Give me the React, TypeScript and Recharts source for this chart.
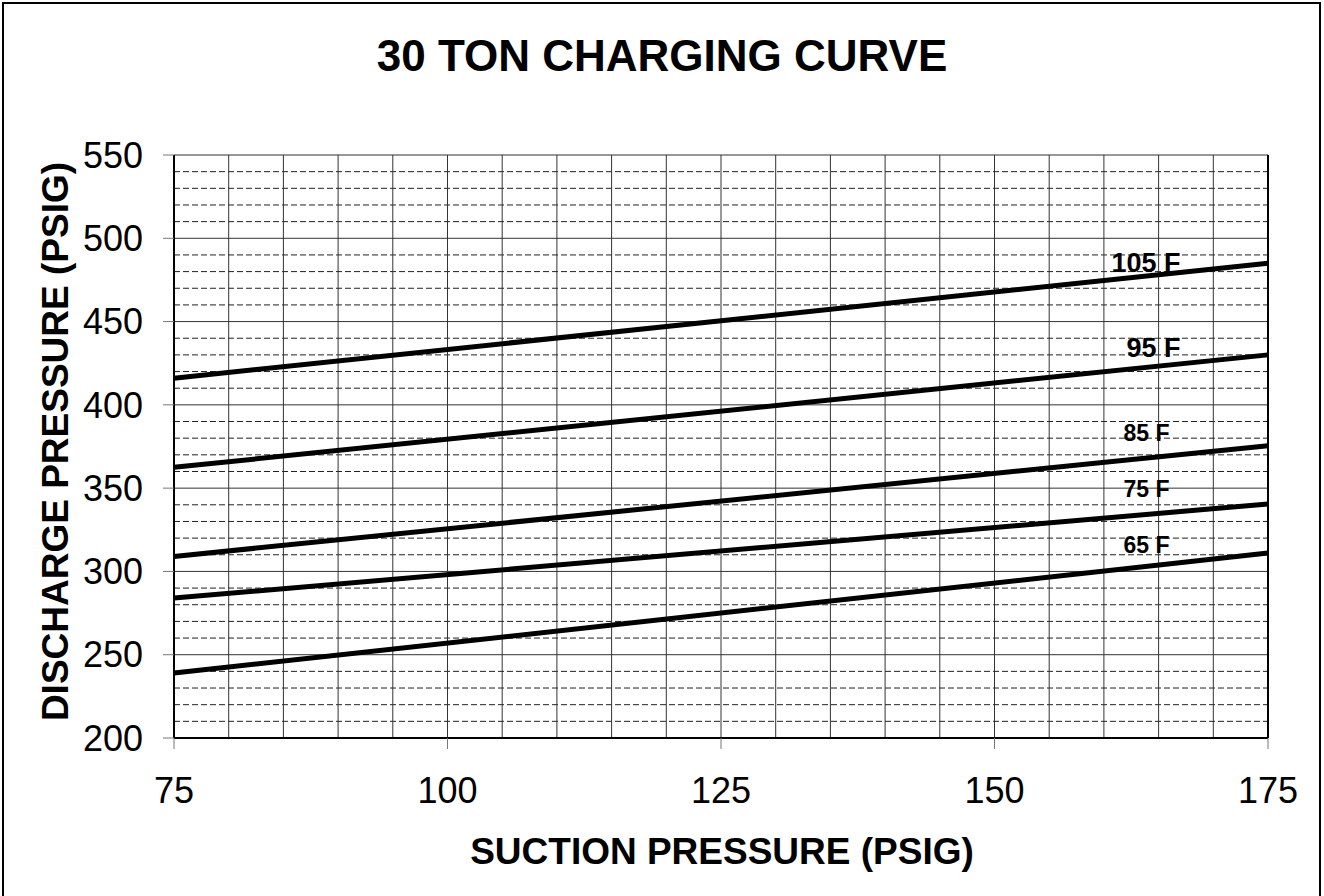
import React from 'react';
import { LineChart, Line, XAxis, YAxis, CartesianGrid, ReferenceLine, ReferenceDot } from 'recharts';

const suction = [75, 175];
const temp105 = [416, 485];
const temp95 = [362.5, 430];
const temp85 = [309, 375.5];
const temp75 = [284, 340.5];
const temp65 = [239, 311];

const xTicks = [75, 100, 125, 150, 175];
const xGrid = [80, 85, 90, 95, 100, 105, 110, 115, 120, 125, 130, 135, 140, 145, 150, 155, 160, 165, 170];
const yTicks = [200, 250, 300, 350, 400, 450, 500, 550];
const yMinor = [
  210, 220, 230, 240, 260, 270, 280, 290, 310, 320, 330, 340, 360, 370, 380, 390,
  410, 420, 430, 440, 460, 470, 480, 490, 510, 520, 530, 540,
];

const curveKeys = ['t105', 't95', 't85', 't75', 't65'];
const curveNames = ['105 F', '95 F', '85 F', '75 F', '65 F'];
const labelX = [167, 167, 166, 166, 166];
const labelY = [480, 429, 378.5, 344.5, 311];

const data = suction.map((s, i) => ({
  suction: s,
  t105: temp105[i],
  t95: temp95[i],
  t85: temp85[i],
  t75: temp75[i],
  t65: temp65[i],
}));

const FONT = '"Liberation Sans", Arial, Helvetica, sans-serif';

export default function App() {
  return (
    <div style={{ position: 'absolute', left: 0, top: 0, width: 1324, height: 896, background: '#fff', overflow: 'hidden', fontFamily: FONT }}>
      <div style={{ position: 'absolute', left: 2, top: 2, width: 1315, height: 920, borderLeft: '2px solid #000', borderTop: '2px solid #000', borderRight: '2px solid #000' }} />

      <div style={{ position: 'absolute', left: 0, top: 34, width: 1324, textAlign: 'center', fontSize: 44, lineHeight: '44px', fontWeight: 'bold', color: '#000' }}>
        30 TON CHARGING CURVE
      </div>

      <LineChart width={1324} height={896} data={data} margin={{ top: 155, right: 56, bottom: 98, left: 74 }}>
        <CartesianGrid
          horizontalValues={yMinor}
          vertical={false}
          stroke="#222"
          strokeDasharray="6 3"
        />
        <CartesianGrid horizontalValues={yTicks} verticalValues={xGrid} stroke="#333" />
        <XAxis
          dataKey="suction"
          type="number"
          domain={[75, 175]}
          ticks={xTicks}
          interval={0}
          height={60}
          tickSize={11}
          tickMargin={28}
          tickLine={{ stroke: '#777' }}
          axisLine={{ stroke: '#000', strokeWidth: 2 }}
          tick={{ fill: '#000', fontSize: 36, fontFamily: FONT }}
        />
        <YAxis
          type="number"
          domain={[200, 550]}
          ticks={yTicks}
          interval={0}
          width={100}
          tickSize={11}
          tickMargin={20}
          tickLine={{ stroke: '#777' }}
          axisLine={{ stroke: '#000', strokeWidth: 2 }}
          tick={{ fill: '#000', fontSize: 36, fontFamily: FONT }}
        />
        <ReferenceLine x={175} stroke="#000" strokeWidth={2} />
        {curveKeys.map((k) => (
          <Line
            key={k}
            dataKey={k}
            type="linear"
            stroke="#000"
            strokeWidth={5}
            dot={false}
            activeDot={false}
            isAnimationActive={false}
          />
        ))}
        {curveNames.map((name, i) => (
          <ReferenceDot
            key={name}
            x={labelX[i]}
            y={labelY[i]}
            shape={(p: any) => (
              <text
                x={p.cx}
                y={p.cy}
                textAnchor="end"
                fontFamily={FONT}
                fontWeight="bold"
                fontSize={i < 2 ? 27 : 23}
                fill="#000"
              >
                {name}
              </text>
            )}
          />
        ))}
      </LineChart>

      <div style={{ position: 'absolute', left: 222, top: 833, width: 1000, textAlign: 'center', fontSize: 37, lineHeight: '37px', fontWeight: 'bold', color: '#000' }}>
        SUCTION PRESSURE (PSIG)
      </div>
      <div
        style={{
          position: 'absolute',
          left: 55 - 350,
          top: 441 - 18.5,
          width: 700,
          height: 37,
          textAlign: 'center',
          fontSize: 37,
          lineHeight: '37px',
          fontWeight: 'bold',
          color: '#000',
          transform: 'rotate(-90deg)',
        }}
      >
        DISCHARGE PRESSURE (PSIG)
      </div>
    </div>
  );
}
